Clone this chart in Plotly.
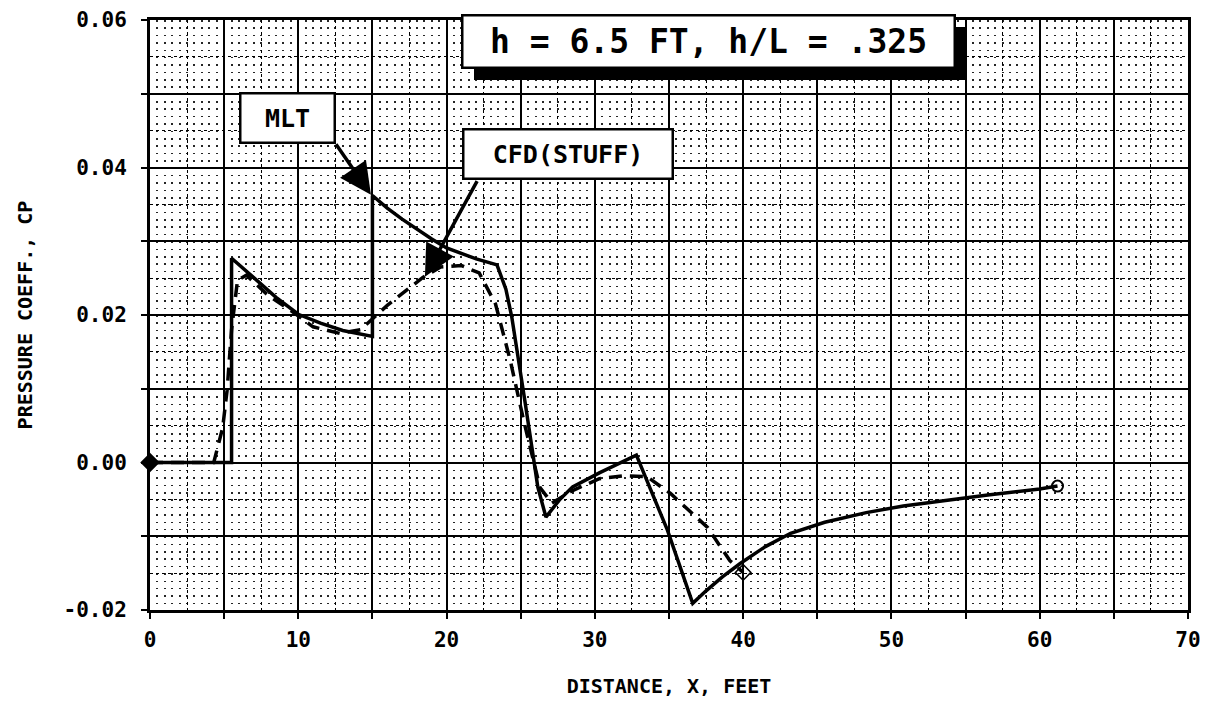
import plotly.graph_objects as go

# ---- data ----
mlt_x = [0, 5.5, 5.5, 7.0, 8.5, 10.0, 11.5, 13.0, 15.0, 15.0, 16.0, 17.0, 18.0, 19.0, 20.0,
         21.0, 22.0, 23.4, 24.0, 24.4, 24.8, 25.3, 25.75, 26.15, 26.7, 27.6, 28.5, 30.3,
         32.8, 34.9, 36.6, 37.5, 38.6, 39.8, 41.5, 43.2, 45.5, 48.3, 50.8, 53.3, 56.5, 60.0, 61.2]
mlt_y = [0.0, 0.0, 0.0277, 0.0250, 0.0224, 0.0201, 0.0189, 0.0179, 0.0171, 0.0362, 0.0345,
         0.0330, 0.0316, 0.0303, 0.0291, 0.0283, 0.0276, 0.0268, 0.0235, 0.0197, 0.0148,
         0.0081, 0.0021, -0.0033, -0.0074, -0.0051, -0.0033, -0.0014, 0.0010, -0.0092,
         -0.0191, -0.0174, -0.0155, -0.0137, -0.0114, -0.0096, -0.0081, -0.0068, -0.0059,
         -0.0052, -0.0044, -0.0036, -0.0032]

cfd_x = [0, 4.3, 4.9, 5.2, 5.5, 5.9, 6.5, 8.0, 9.5, 11.0, 12.8, 14.2, 16.0, 18.4, 19.6,
         21.0, 22.2, 23.3, 24.3, 25.2, 26.3, 27.1, 28.5, 30.3, 32.0, 33.5, 35.1, 37.6, 39.1, 40.0]
cfd_y = [0.0, 0.0, 0.0047, 0.0098, 0.0180, 0.0247, 0.0254, 0.0226, 0.0206, 0.0184, 0.0175,
         0.0180, 0.0213, 0.0251, 0.0265, 0.0267, 0.0257, 0.0215, 0.0138, 0.0057, -0.0034,
         -0.0055, -0.0038, -0.0022, -0.0018, -0.0019, -0.0042, -0.0088, -0.0133, -0.0149]

x_ticks = [0, 5, 10, 15, 20, 25, 30, 35, 40, 45, 50, 55, 60, 65, 70]
x_tick_text = ["0", "", "10", "", "20", "", "30", "", "40", "", "50", "", "60", "", "70"]
y_ticks = [-0.02, -0.01, 0.0, 0.01, 0.02, 0.03, 0.04, 0.05, 0.06]
y_tick_text = ["-0.02", "", "0.00", "", "0.02", "", "0.04", "", "0.06"]

title_text = "h = 6.5 FT, h/L = .325"
mlt_label = "MLT"
cfd_label = "CFD(STUFF)"
x_title = "DISTANCE, X, FEET"
y_title = "PRESSURE COEFF., CP"

FONT = "DejaVu Sans Mono"
W, H = 1206, 701
L, R, T, B = 150, 18, 20, 91
PW, PH = W - L - R, H - T - B


def px_to_paper(px, py):
    return (px - L) / PW, (H - B - py) / PH


fig = go.Figure()

# invisible trace on the overlay axis that carries the dot lattice
fig.add_trace(go.Scatter(x=[], y=[], xaxis="x2", yaxis="y", showlegend=False,
                         hoverinfo="skip"))

fig.add_trace(go.Scatter(x=cfd_x, y=cfd_y, mode="lines", name="CFD",
                         line=dict(color="black", width=3.5, dash="13px,8px"),
                         showlegend=False))
fig.add_trace(go.Scatter(x=mlt_x, y=mlt_y, mode="lines", name="MLT",
                         line=dict(color="black", width=3.5), showlegend=False))
fig.add_trace(go.Scatter(x=[mlt_x[0]], y=[mlt_y[0]], mode="markers", showlegend=False,
                         marker=dict(symbol="diamond", size=15, color="black"),
                         cliponaxis=False))
fig.add_trace(go.Scatter(x=[mlt_x[-1]], y=[mlt_y[-1]], mode="markers", showlegend=False,
                         marker=dict(symbol="circle-open", size=11, color="black",
                                     line=dict(width=2))))
fig.add_trace(go.Scatter(x=[cfd_x[-1]], y=[cfd_y[-1]], mode="markers", showlegend=False,
                         marker=dict(symbol="diamond-open", size=12, color="black",
                                     line=dict(width=1.5))))

tickfont = dict(family=FONT, size=21, color="black", weight="bold")
titlefont = dict(family=FONT, size=20, color="black", weight="bold")

fig.update_layout(
    width=W, height=H,
    margin=dict(l=L, r=R, t=T, b=B, autoexpand=False),
    paper_bgcolor="white", plot_bgcolor="white",
    xaxis=dict(
        range=[0, 70], tickmode="array", tickvals=x_ticks, ticktext=x_tick_text,
        automargin=False,
        showgrid=True, gridcolor="black", gridwidth=1.5, zeroline=False,
        showline=True, linecolor="black", linewidth=3, mirror=True,
        ticks="outside", ticklen=6, tickwidth=1.5, tickcolor="black",
        tickfont=tickfont, ticklabelstandoff=3,
        minor=dict(dtick=2.5, tick0=0, showgrid=True, griddash="dot",
                   gridcolor="black", gridwidth=1, ticks=""),
        title=dict(text=x_title, font=titlefont, standoff=28),
    ),
    xaxis2=dict(
        range=[0, 70], overlaying="x", anchor="y", side="bottom", automargin=False,
        showticklabels=False, ticks="", zeroline=False, showline=False,
        tickmode="linear", tick0=0, dtick=0.5,
        showgrid=True, gridcolor="rgba(0,0,0,0.85)", gridwidth=1.6,
        griddash="1.6px,5.775px",
    ),
    yaxis=dict(
        range=[-0.02, 0.06], tickmode="array", tickvals=y_ticks, ticktext=y_tick_text,
        automargin=False,
        showgrid=True, gridcolor="black", gridwidth=1.5, zeroline=False,
        showline=True, linecolor="black", linewidth=3, mirror=True,
        ticks="outside", ticklen=6, tickwidth=1.5, tickcolor="black",
        tickfont=tickfont, ticklabelstandoff=10,
        minor=dict(dtick=0.005, tick0=0, showgrid=True, griddash="dot",
                   gridcolor="black", gridwidth=1, ticks=""),
        title=dict(text=y_title, font=titlefont, standoff=26),
    ),
)

# shadow of the main label box
sx0, sy1 = px_to_paper(474, 80)
sx1, sy0 = px_to_paper(967, 27)
fig.add_shape(type="rect", xref="paper", yref="paper", x0=sx0, x1=sx1, y0=sy1, y1=sy0,
              fillcolor="black", line=dict(width=0), layer="above")


def box(text, cx, cy, w, h, size):
    x, y = px_to_paper(cx, cy)
    fig.add_annotation(xref="paper", yref="paper", x=x, y=y, text=text, showarrow=False,
                       width=w, height=h, bgcolor="white", bordercolor="black",
                       borderwidth=2.5, borderpad=0, xanchor="center", yanchor="middle",
                       font=dict(family=FONT, size=size, color="black", weight="bold"))


box(title_text, 708.5, 41.5, 490, 50, 33)
box(mlt_label, 287.5, 118, 92, 47, 25)
box(cfd_label, 568, 154, 207, 47, 25)

# arrows (tip in data coords, tail offset in pixels)
for tx, ty, ax, ay in [(14.9, 0.0363, -36, -52), (18.54, 0.0252, 53, -97)]:
    fig.add_annotation(x=tx, y=ty, xref="x", yref="y", text="", showarrow=True,
                       ax=ax, ay=ay, arrowhead=2, arrowsize=1.8, arrowwidth=3.5,
                       arrowcolor="black", standoff=0)

fig.write_html("out.html",
               config={"displayModeBar": False},
               post_script="document.body.style.margin='0';"
                           "document.body.style.overflow='hidden';")
